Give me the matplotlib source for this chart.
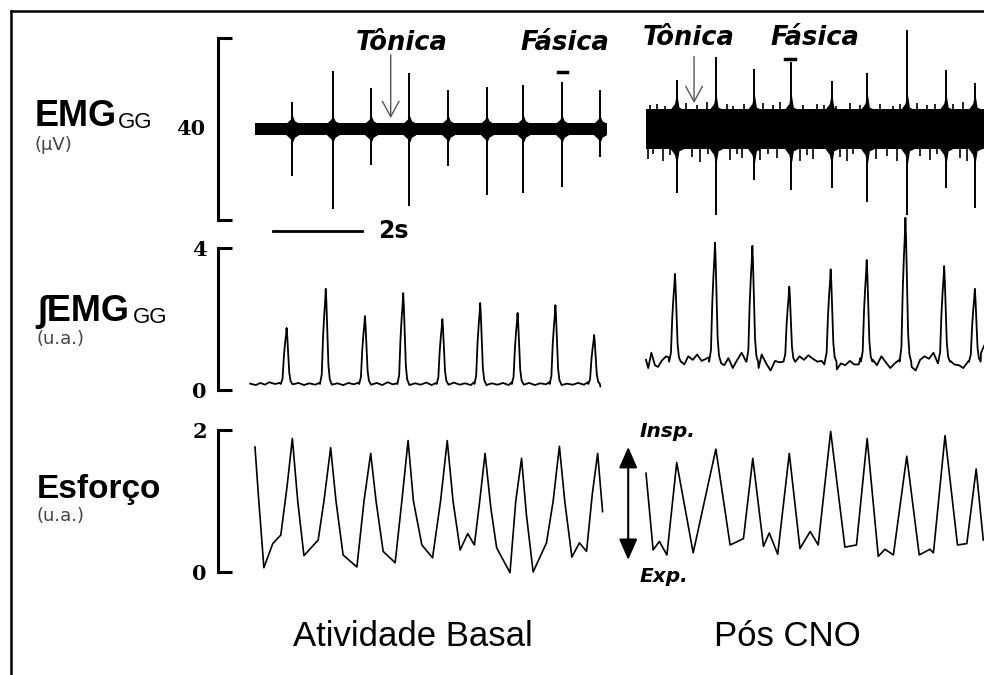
import numpy as np
import matplotlib
matplotlib.use('Agg')
import matplotlib.pyplot as plt
from matplotlib.lines import Line2D

W, H = 984, 675

# ---- raw EMG (time in s, amplitude in uV) ----
basal_spk_t = [0.84, 1.75, 2.61, 3.47, 4.34, 5.21, 6.03, 6.90, 7.75]
basal_spk_up = [6.0, 12.8, 8.9, 12.4, 8.6, 9.3, 9.7, 10.4, 8.6]
basal_spk_dn = [-10.3, -17.6, -7.9, -16.9, -8.2, -14.5, -14.1, -12.7, -6.1]
basal_emg_span = [0.0, 7.91]
basal_noise = 1.3
basal_burst = 3.0

post_spk_t = [0.69, 1.57, 2.43, 3.26, 4.17, 4.97, 5.87, 6.74, 7.39]
post_spk_up = [10.8, 15.9, 13.1, 14.8, 10.6, 12.2, 21.8, 13.0, 10.0]
post_spk_dn = [-14.1, -18.9, -11.2, -13.4, -13.0, -16.0, -18.9, -13.0, -17.4]
post_emg_span = [0.0, 7.6]
post_noise = 4.4
post_burst = 8.0
post_blip_up_t = [0.10, 0.24, 0.43, 0.91, 1.14, 1.36, 1.81, 1.96, 2.20, 2.64, 2.86, 3.01,
                  3.53, 3.84, 4.00, 4.28, 4.58, 4.81, 5.26, 5.56, 5.70, 6.08, 6.31, 6.50,
                  6.91, 7.13]
post_blip_up_v = [5.2, 5.6, 5.0, 5.8, 5.2, 6.0, 5.4, 5.0, 5.5, 5.7, 5.2, 5.9,
                  5.3, 5.6, 5.2, 5.1, 5.8, 5.3, 5.6, 5.0, 5.4, 5.7, 5.2, 5.5,
                  5.5, 5.9]
post_blip_dn_t = [0.05, 0.16, 0.39, 0.54, 1.03, 1.21, 1.40, 1.89, 2.04, 2.15, 2.56,
                  2.75, 2.94, 3.46, 3.61, 3.76, 4.36, 4.51, 4.66, 5.18, 5.41, 5.63,
                  6.16, 6.38, 6.53, 7.06, 7.21]
post_blip_dn_v = [-6.5, -5.5, -7.0, -5.8, -6.2, -7.2, -5.6, -6.8, -5.4, -6.4, -6.9,
                  -5.5, -6.3, -7.0, -5.8, -6.5, -6.2, -7.1, -5.5, -6.6, -5.9, -7.0,
                  -6.0, -6.8, -5.6, -6.4, -7.0]

# ---- integrated EMG (u.a.) ----
basal_int_t = [0.71, 1.59, 2.47, 3.33, 4.21, 5.06, 5.90, 6.75, 7.62]
basal_int_h = [1.75, 2.85, 2.08, 2.73, 2.00, 2.45, 2.17, 2.39, 1.55]
basal_int_floor = 0.17
basal_int_base_t = [-0.11, 0.02, 0.12, 0.22, 0.32, 0.45, 0.55,
                    0.85, 0.98, 1.10, 1.22, 1.35, 1.45,
                    1.73, 1.85, 1.98, 2.10, 2.22, 2.33,
                    2.61, 2.74, 2.86, 2.98, 3.10, 3.19,
                    3.47, 3.60, 3.72, 3.85, 3.97, 4.07,
                    4.35, 4.47, 4.60, 4.72, 4.85, 4.92,
                    5.20, 5.32, 5.45, 5.57, 5.70, 5.76,
                    6.04, 6.16, 6.29, 6.41, 6.54, 6.61,
                    6.89, 7.01, 7.14, 7.26, 7.39, 7.48,
                    7.76]
basal_int_base_v = [0.18, 0.14, 0.20, 0.15, 0.22, 0.17, 0.20,
                    0.16, 0.20, 0.14, 0.19, 0.15, 0.20,
                    0.15, 0.19, 0.14, 0.20, 0.16, 0.21,
                    0.15, 0.20, 0.14, 0.22, 0.16, 0.19,
                    0.14, 0.19, 0.15, 0.21, 0.14, 0.20,
                    0.15, 0.21, 0.15, 0.19, 0.14, 0.22,
                    0.14, 0.19, 0.15, 0.20, 0.14, 0.21,
                    0.15, 0.20, 0.14, 0.19, 0.16, 0.22,
                    0.14, 0.18, 0.15, 0.20, 0.15, 0.22,
                    0.10]

post_int_t = [0.65, 1.55, 2.39, 3.22, 4.15, 4.96, 5.83, 6.70, 7.39]
post_int_h = [3.27, 4.15, 4.06, 2.91, 3.40, 3.66, 4.85, 3.49, 2.85]
post_int_floor = 0.8
post_int_base_t = [0.00, 0.05, 0.12, 0.20, 0.27, 0.35, 0.45, 0.51,
                   0.79, 0.86, 0.95, 1.05, 1.15, 1.25, 1.35, 1.41,
                   1.69, 1.76, 1.85, 1.95, 2.05, 2.15, 2.25,
                   2.53, 2.60, 2.70, 2.80, 2.90, 3.00, 3.08,
                   3.36, 3.45, 3.55, 3.65, 3.75, 3.85, 3.95, 4.01,
                   4.29, 4.38, 4.48, 4.58, 4.68, 4.78, 4.82,
                   5.10, 5.19, 5.29, 5.39, 5.49, 5.59, 5.69,
                   5.97, 6.06, 6.16, 6.26, 6.36, 6.46, 6.56,
                   6.84, 6.93, 7.03, 7.13, 7.25,
                   7.53, 7.60]
post_int_base_v = [0.85, 0.62, 1.05, 0.70, 0.65, 0.82, 0.95, 0.92,
                   0.80, 0.72, 0.95, 0.85, 1.00, 0.82, 0.88, 0.92,
                   0.75, 0.70, 0.90, 0.62, 0.85, 1.05, 0.80,
                   0.62, 1.00, 0.75, 0.55, 0.82, 0.78, 0.80,
                   0.80, 0.95, 0.85, 0.98, 0.88, 0.80, 0.82, 0.72,
                   0.58, 0.75, 0.70, 0.82, 0.72, 0.72, 0.90,
                   0.85, 0.70, 0.95, 0.78, 0.62, 0.75, 0.85,
                   0.65, 0.55, 0.85, 0.95, 0.88, 1.05, 0.75,
                   0.82, 0.72, 0.70, 0.62, 0.82,
                   1.05, 1.25]

# ---- respiratory effort (u.a.) ----
basal_eff_t = [0.00, 0.08, 0.20, 0.40, 0.58, 0.72, 0.84, 0.96, 1.10, 1.42, 1.55, 1.70,
               1.82, 1.98, 2.29, 2.45, 2.60, 2.72, 2.88, 3.15, 3.30, 3.44, 3.56, 3.75,
               3.99, 4.17, 4.32, 4.45, 4.61, 4.78, 4.93, 5.05, 5.17, 5.30, 5.43, 5.73,
               5.86, 5.99, 6.10, 6.25, 6.55, 6.70, 6.84, 6.96, 7.12, 7.29, 7.45, 7.58,
               7.70, 7.81]
basal_eff_v = [1.76, 1.05, 0.06, 0.40, 0.52, 1.20, 1.88, 1.00, 0.23, 0.45, 1.00, 1.75,
               1.00, 0.24, 0.07, 1.00, 1.67, 1.00, 0.29, 0.13, 1.00, 1.85, 1.00, 0.38,
               0.20, 1.00, 1.85, 1.00, 0.31, 0.54, 0.38, 1.00, 1.67, 0.90, 0.34, -0.01,
               1.00, 1.60, 0.80, 0.00, 0.41, 1.00, 1.77, 1.00, 0.21, 0.41, 0.29, 1.10,
               1.67, 0.85]
post_eff_t = [0.00, 0.16, 0.30, 0.47, 0.69, 1.06, 1.57, 1.89, 2.19, 2.40, 2.64, 2.77,
              2.96, 3.22, 3.46, 3.69, 3.87, 4.15, 4.47, 4.73, 4.97, 5.22, 5.37, 5.56,
              5.86, 6.14, 6.38, 6.46, 6.72, 7.00, 7.21, 7.42, 7.58]
post_eff_v = [1.39, 0.31, 0.43, 0.24, 1.54, 0.27, 1.73, 0.38, 0.47, 1.60, 0.36, 0.55,
              0.25, 1.67, 0.33, 0.57, 0.38, 1.98, 0.35, 0.38, 1.88, 0.22, 0.32, 0.24,
              1.63, 0.24, 0.32, 0.27, 1.92, 0.38, 0.40, 1.45, 0.45]

# peak shape of the integrated trace (offset s, fraction of height)
pk_off = [-0.13, -0.09, -0.06, -0.035, -0.012, 0.0, 0.015, 0.035, 0.06, 0.09, 0.13]
pk_frac = [0.0, 0.1, 0.5, 0.72, 0.88, 1.0, 0.85, 0.55, 0.2, 0.05, 0.0]

fig = plt.figure(figsize=(W / 100, H / 100), dpi=100)
fig.patch.set_facecolor('white')


def px_axes(x0, y0, x1, y1):
    return fig.add_axes([x0 / W, 1 - y1 / H, (x1 - x0) / W, (y1 - y0) / H])


def style_axes(ax, bracket=None, ticks=None, labels=None):
    for s in ax.spines.values():
        s.set_visible(False)
    ax.set_xticks([])
    ax.set_yticks([])
    ax.patch.set_alpha(0)
    if bracket is not None:
        ax.spines['left'].set_visible(True)
        ax.spines['left'].set_linewidth(2.2)
        ax.spines['left'].set_bounds(*bracket)
        ax.set_yticks(ticks, labels)
        ax.tick_params(axis='y', direction='in', length=10, width=2.2, pad=8)
        for lab in ax.get_yticklabels():
            lab.set_fontfamily('DejaVu Serif')
            lab.set_fontweight('bold')
            lab.set_fontsize(15)


def draw_emg(ax, span, noise, burst, spk_t, up, dn):
    ax.fill_between(span, [-noise, -noise], [noise, noise], color='k', lw=0, clip_on=False)
    for t, u, d in zip(spk_t, up, dn):
        bt = [t - 0.14, t - 0.05, t, t + 0.05, t + 0.14]
        env = np.array([noise, burst * 0.7, burst, burst * 0.6, noise])
        ax.fill_between(bt, -env, env, color='k', lw=0, clip_on=False)
    ax.vlines(spk_t, dn, up, color='k', lw=1.4, clip_on=False)


def draw_int(ax, base_t, base_v, floor, pk_t, pk_h):
    pts = list(zip(base_t, base_v))
    for t, h in zip(pk_t, pk_h):
        for o, f in zip(pk_off, pk_frac):
            pts.append((t + o, floor + f * (h - floor)))
    pts.sort()
    ax.plot([p[0] for p in pts], [p[1] for p in pts], color='k', lw=1.3, clip_on=False)


# axes (left column: basal, right column: after CNO)
xl = (-0.831, 8.022)
xr = (-0.135, 7.596)
ax_e1 = px_axes(218, 15, 612, 225)
ax_e2 = px_axes(640, 15, 984, 225)
ax_i1 = px_axes(218, 215, 612, 395)
ax_i2 = px_axes(640, 215, 984, 395)
ax_f1 = px_axes(218, 420, 612, 580)
ax_f2 = px_axes(640, 420, 984, 580)

for ax in (ax_e1, ax_e2):
    ax.set_ylim(-21.1, 25.05)
for ax in (ax_i1, ax_i2):
    ax.set_ylim(-0.14, 4.93)
for ax in (ax_f1, ax_f2):
    ax.set_ylim(-0.113, 2.14)
for ax in (ax_e1, ax_i1, ax_f1):
    ax.set_xlim(*xl)
for ax in (ax_e2, ax_i2, ax_f2):
    ax.set_xlim(*xr)

style_axes(ax_e1, (-20, 20), [-20, 20], ['', ''])
style_axes(ax_i1, (0, 4), [0, 4], ['0', '4'])
style_axes(ax_f1, (0, 2), [0, 2], ['0', '2'])
for ax in (ax_e2, ax_i2, ax_f2):
    style_axes(ax)

ax_e1.annotate('40', xy=(0, 0), xycoords=('axes fraction', 'data'), xytext=(-9, 0),
               textcoords='offset points', ha='right', va='center',
               fontfamily='DejaVu Serif', fontweight='bold', fontsize=15)

draw_emg(ax_e1, basal_emg_span, basal_noise, basal_burst, basal_spk_t, basal_spk_up, basal_spk_dn)
draw_emg(ax_e2, post_emg_span, post_noise, post_burst, post_spk_t, post_spk_up, post_spk_dn)
ax_e2.vlines(post_blip_up_t, 0, post_blip_up_v, color='k', lw=1.2, clip_on=False)
ax_e2.vlines(post_blip_dn_t, post_blip_dn_v, 0, color='k', lw=1.2, clip_on=False)

draw_int(ax_i1, basal_int_base_t, basal_int_base_v, basal_int_floor, basal_int_t, basal_int_h)
draw_int(ax_i2, post_int_base_t, post_int_base_v, post_int_floor, post_int_t, post_int_h)

ax_f1.plot(basal_eff_t, basal_eff_v, color='k', lw=1.2)
ax_f2.plot(post_eff_t, post_eff_v, color='k', lw=1.2, clip_on=False)

# annotations on the raw EMG
lab_kw = dict(ha='center', va='center', fontsize=18.5, fontweight='bold', style='italic',
              fontfamily='DejaVu Sans', clip_on=False)
arr_kw = dict(arrowstyle='->,head_width=0.3,head_length=0.55', color='#555555', lw=1.0,
              mutation_scale=20, shrinkA=0, shrinkB=0)
ax_e1.text(3.30, 18.9, 'Tônica', **lab_kw)
ax_e1.annotate('', xy=(3.05, 2.4), xytext=(3.05, 16.3), arrowprops=arr_kw, annotation_clip=False)
ax_e1.text(6.97, 18.9, 'Fásica', **lab_kw)
ax_e1.plot([6.80, 7.02], [12.6, 12.6], color='k', lw=2.5, clip_on=False)
ax_e2.text(0.97, 20.0, 'Tônica', **lab_kw)
ax_e2.annotate('', xy=(1.08, 5.7), xytext=(1.08, 15.9), arrowprops=arr_kw, annotation_clip=False)
ax_e2.text(3.80, 20.0, 'Fásica', **lab_kw)
ax_e2.plot([3.13, 3.34], [15.4, 15.4], color='k', lw=2.5, clip_on=False)

# time scale bar
ax_e1.plot([0.40, 2.40], [-22.4, -22.4], color='k', lw=2.0, clip_on=False)
ax_e1.text(2.76, -22.4, '2s', ha='left', va='center', fontsize=17, fontweight='bold',
           fontfamily='DejaVu Sans', clip_on=False)

# inspiration / expiration arrow
ax_f2.annotate('', xy=(-0.40, 1.76), xytext=(-0.40, 0.17),
               arrowprops=dict(arrowstyle='<|-|>,head_width=0.35,head_length=0.8', color='k',
                               lw=1.5, mutation_scale=16, shrinkA=0, shrinkB=0),
               annotation_clip=False)
ax_f2.text(-0.135, 1.905, 'Insp.', ha='left', va='baseline', fontsize=14.5, fontweight='bold',
           style='italic', fontfamily='DejaVu Sans', clip_on=False)
ax_f2.text(-0.135, -0.137, 'Exp.', ha='left', va='baseline', fontsize=14.5, fontweight='bold',
           style='italic', fontfamily='DejaVu Sans', clip_on=False)


def ftext(x, y, s, **kw):
    fig.text(x / W, 1 - y / H, s, va='baseline', **kw)


sans = ['Liberation Sans', 'DejaVu Sans']
ftext(35, 126, 'EMG', fontsize=26, fontweight='bold', fontfamily=sans)
ftext(118, 128, 'GG', fontsize=16, fontfamily=sans)
ftext(35, 150, '(µV)', fontsize=13, fontfamily='DejaVu Sans', color='#444444')

ftext(37, 321, '∫EMG', fontsize=26, fontweight='bold', fontfamily=sans)
ftext(133, 323, 'GG', fontsize=16, fontfamily=sans)
ftext(37, 344, '(u.a.)', fontsize=13, fontfamily='DejaVu Sans', color='#444444')

ftext(37, 498, 'Esforço', fontsize=24, fontweight='bold', fontfamily=sans)
ftext(37, 521, '(u.a.)', fontsize=13, fontfamily='DejaVu Sans', color='#444444')

fig.text(413 / W, 1 - 637 / H, 'Atividade Basal', ha='center', va='center', fontsize=25,
         fontfamily=sans)
fig.text(787 / W, 1 - 637 / H, 'Pós CNO', ha='center', va='center', fontsize=25,
         fontfamily=sans)

# frame of the original panel (left and top edges)
fig.add_artist(Line2D([10.5 / W, 10.5 / W], [0, 1 - 10.5 / H], color='k', lw=1.8,
                      transform=fig.transFigure))
fig.add_artist(Line2D([10.5 / W, 1], [1 - 10.5 / H, 1 - 10.5 / H], color='k', lw=1.8,
                      transform=fig.transFigure))

fig.savefig('out.png', dpi=100)
